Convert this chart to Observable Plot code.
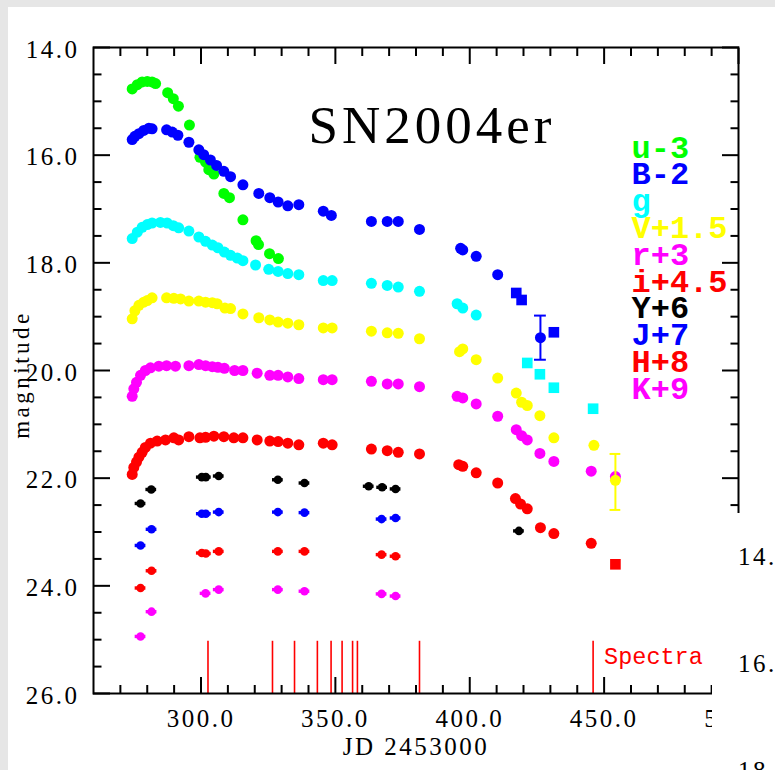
<!DOCTYPE html>
<html>
<head>
<meta charset="utf-8">
<script src="https://cdn.jsdelivr.net/npm/d3@7"></script>
<script src="https://cdn.jsdelivr.net/npm/@observablehq/plot@0.6"></script>
<style>
html,body{margin:0;padding:0;width:775px;height:770px;overflow:hidden;background:#e6e6e6;}
#panel{position:absolute;left:8px;top:7px;width:767px;height:763px;background:#fff;}
#chart{position:absolute;left:0;top:0;}
#cover{position:absolute;left:712px;top:513px;width:63px;height:257px;background:#fff;overflow:hidden;}
g[aria-label="x-axis tick label"], g[aria-label="y-axis tick label"]{letter-spacing:2.5px;}
</style>
</head>
<body>
<div id="panel"></div>
<div id="chart"></div>
<div id="cover"></div>
<script>
// ---------- data (plotted magnitudes, offsets already applied) ----------
const uJD  = [274.4,276.3,278.1,280.0,281.8,283.1,287.6,289.7,291.6,295.7,299.6,301.7,302.9,304.8,308.5,310.6,315.6,320.5,321.4,325.5,328.8];
const uMag = [14.77,14.69,14.64,14.63,14.64,14.67,14.84,14.95,15.09,15.44,16.04,16.13,16.27,16.35,16.71,16.79,17.20,17.59,17.66,17.83,17.92];

const bJD  = [274.4,275.4,276.9,278.7,280.6,281.8,287.2,289.3,291.4,295.5,299.2,301.0,303.5,305.8,308.5,311.0,315.6,321.5,325.6,328.7,332.3,336.4,345.5,348.5,363.4,369.3,373.4,381.3,396.6,397.4,402.4,410.4];
const bMag = [15.71,15.65,15.60,15.54,15.50,15.51,15.53,15.57,15.63,15.76,15.90,15.99,16.09,16.19,16.30,16.40,16.55,16.71,16.79,16.87,16.94,16.92,17.04,17.12,17.23,17.23,17.23,17.38,17.73,17.76,17.88,18.22];
const bSqJD  = [417.3,419.3,431.3];
const bSqMag = [18.56,18.69,19.29];
const bErrJD = [426.3], bErrMag = [19.39], bErrLo = [18.98], bErrHi = [19.80];

const gJD  = [274.4,276.3,278.1,280.0,281.8,284.9,287.4,289.7,291.7,295.5,299.2,301.7,304.2,306.3,308.7,311.0,313.5,315.6,320.3,325.2,328.7,332.3,336.4,345.5,348.8,363.4,369.3,373.4,381.3,395.3,397.4,402.4];
const gMag = [17.55,17.43,17.34,17.29,17.26,17.25,17.26,17.31,17.35,17.41,17.52,17.60,17.67,17.72,17.80,17.86,17.91,17.96,18.04,18.12,18.16,18.20,18.22,18.33,18.33,18.38,18.42,18.45,18.53,18.76,18.84,18.97];
const gSqJD  = [421.4,426.1,431.3,445.9];
const gSqMag = [19.86,20.07,20.32,20.71];

const vJD  = [274.4,275.4,276.9,278.7,280.0,281.8,287.2,289.9,292.4,295.5,299.2,301.7,304.2,306.0,308.9,311.0,315.6,321.5,325.6,328.7,332.3,336.4,345.5,348.8,363.4,369.3,373.4,381.3,396.2,397.4,402.4,410.4,417.3,419.3,421.4,426.1,431.3,446.2];
const vMag = [19.04,18.89,18.79,18.73,18.70,18.65,18.65,18.66,18.67,18.71,18.71,18.73,18.74,18.76,18.84,18.85,18.95,19.02,19.06,19.10,19.12,19.15,19.21,19.21,19.27,19.30,19.31,19.41,19.65,19.60,19.80,20.14,20.42,20.59,20.65,20.84,21.25,21.39];
const vErrJD = [454.2], vErrMag = [22.04], vErrLo = [21.55], vErrHi = [22.59];

const rJD  = [274.4,275.0,276.0,277.5,279.3,281.2,284.3,287.2,290.5,295.5,299.2,301.7,304.2,306.3,308.7,312.5,315.6,320.9,325.6,328.7,332.3,336.4,345.5,348.8,363.4,369.3,373.4,381.3,395.3,397.4,402.4,410.4,417.3,419.3,421.4,426.1,431.3,445.2,454.2];
const rMag = [20.48,20.34,20.22,20.09,20.00,19.95,19.92,19.91,19.92,19.91,19.89,19.91,19.93,19.94,19.96,20.00,20.00,20.05,20.09,20.09,20.12,20.15,20.17,20.17,20.20,20.25,20.25,20.30,20.48,20.51,20.62,20.85,21.10,21.21,21.29,21.54,21.69,21.87,21.97];

const iJD  = [274.4,275.0,276.0,276.9,278.1,279.3,281.2,283.7,286.8,289.9,291.7,295.5,299.6,301.7,304.8,308.5,312.2,315.6,320.9,325.6,328.7,332.3,336.4,345.5,348.8,363.4,369.3,373.4,381.3,395.9,397.4,402.4,410.4,417.0,418.9,421.4,426.3,431.3,445.2];
const iMag = [21.93,21.80,21.70,21.61,21.52,21.43,21.35,21.31,21.29,21.25,21.29,21.23,21.25,21.24,21.22,21.23,21.25,21.25,21.29,21.31,21.32,21.35,21.38,21.35,21.38,21.46,21.49,21.52,21.55,21.75,21.78,21.90,22.09,22.38,22.48,22.57,22.92,23.03,23.21];
const iSqJD  = [454.2];
const iSqMag = [23.60];

const yJD  = [277.5,281.5,300.3,301.8,306.6,328.6,338.5,362.4,367.4,372.4,418.3];
const yMag = [22.47,22.21,21.98,21.98,21.96,22.03,22.09,22.15,22.17,22.20,22.98];
const jJD  = [277.5,281.6,300.3,301.8,306.6,328.6,338.5,367.2,372.4];
const jMag = [23.25,22.95,22.66,22.66,22.63,22.63,22.64,22.76,22.74];
const hJD  = [277.5,281.6,300.3,301.8,306.6,328.6,338.5,367.2,372.4];
const hMag = [24.04,23.72,23.39,23.40,23.36,23.36,23.36,23.42,23.45];
const kJD  = [277.5,281.6,301.7,306.6,328.6,338.5,367.2,372.4];
const kMag = [24.94,24.48,24.14,24.07,24.07,24.10,24.15,24.19];

const spectraJD = [302.6,326.6,334.8,343.3,348.4,352.5,356.4,358.2,381.3,445.9];
const spectraMag = [25.03, 26.0];

const legendLabels = ["u-3","B-2","g","V+1.5","r+3","i+4.5","Y+6","J+7","H+8","K+9"];
const legendColors = ["#00ff00","#0000ff","#00ffff","#ffff00","#ff00ff","#ff0000","#000000","#0000ff","#ff0000","#ff00ff"];
const titleText = "SN2004er";
const xLabelText = "JD 2453000";
const yLabelText = "magnitude";
const spectraLabel = "Spectra";
const xTickValues = [300,350,400,450,500];
const yTickValues = [14,16,18,20,22,24,26];
const sideTickLabels = ["14.0","16.0","18.0"];

// ---------- chart ----------
const serif = "'Liberation Serif','Times New Roman',serif";
const mono = "'Liberation Mono','DejaVu Sans Mono',monospace";
const fmt = d3.format(".1f");
const noLabel = () => "";
const xMinor = d3.range(270, 500, 10).filter(v => v % 50 !== 0);
const yMinor = d3.range(14.5, 26, 0.5).filter(v => v % 2 !== 0);
const [GREEN, BLUE, CYAN, YELLOW, MAGENTA, RED, BLACK] = ["#00ff00","#0000ff","#00ffff","#ffff00","#ff00ff","#ff0000","#000000"];

const marks = [];
// spectra
marks.push(Plot.ruleX(spectraJD, {x: d => d, y1: spectraMag[0], y2: spectraMag[1], stroke: RED, strokeWidth: 1.6}));
marks.push(Plot.text([spectraLabel], {x: () => spectraJD[spectraJD.length - 1], frameAnchor: "bottom", dx: 11, dy: -30,
  textAnchor: "start", lineAnchor: "bottom", fill: RED, fontFamily: mono, fontSize: 23.5}));

// optical circles
const optical = [[uJD,uMag,GREEN],[bJD,bMag,BLUE],[gJD,gMag,CYAN],[vJD,vMag,YELLOW],[rJD,rMag,MAGENTA],[iJD,iMag,RED]];
for (const [jd, mag, c] of optical) marks.push(Plot.dot(jd, {x: jd, y: mag, r: 5.5, fill: c}));
// squares (late points with small error bars)
for (const [jd, mag, c] of [[bSqJD,bSqMag,BLUE],[gSqJD,gSqMag,CYAN],[iSqJD,iSqMag,RED]])
  marks.push(Plot.dot(jd, {x: jd, y: mag, r: 6, symbol: "square", fill: c}));
// error bars
for (const [jd, mag, lo, hi, c, cap] of [[bErrJD,bErrMag,bErrLo,bErrHi,BLUE,2.2],[vErrJD,vErrMag,vErrLo,vErrHi,YELLOW,2.0]]) {
  marks.push(Plot.ruleX(jd, {x: jd, y1: lo, y2: hi, stroke: c, strokeWidth: 2}));
  marks.push(Plot.ruleY(jd, {y: lo, x1: d => d - cap, x2: d => d + cap, stroke: c, strokeWidth: 2}));
  marks.push(Plot.ruleY(jd, {y: hi, x1: d => d - cap, x2: d => d + cap, stroke: c, strokeWidth: 2}));
  marks.push(Plot.dot(jd, {x: jd, y: mag, r: 5.5, fill: c}));
}
// NIR
for (const [jd, mag, c] of [[yJD,yMag,BLACK],[jJD,jMag,BLUE],[hJD,hMag,RED],[kJD,kMag,MAGENTA]]) {
  marks.push(Plot.ruleY(jd, {y: mag, x1: d => d - 2.0, x2: d => d + 2.0, stroke: c, strokeWidth: 3.4}));
  marks.push(Plot.dot(jd, {x: jd, y: mag, r: 4.3, fill: c}));
}

// frame & inward ticks (outward ticks shifted back inside the frame)
marks.push(Plot.frame({stroke: BLACK, strokeWidth: 2}));
const XMAJ = 16, XMIN = 8, YMAJ = 17, YMIN = 8.5;
marks.push(Plot.axisX(xTickValues, {anchor: "bottom", tickSize: XMAJ, dy: -XMAJ, tickFormat: noLabel, label: null, strokeWidth: 2}));
marks.push(Plot.axisX(xMinor, {anchor: "bottom", tickSize: XMIN, dy: -XMIN, tickFormat: noLabel, label: null, strokeWidth: 2}));
marks.push(Plot.axisX(xTickValues, {anchor: "top", tickSize: XMAJ, dy: XMAJ, tickFormat: noLabel, label: null, strokeWidth: 2}));
marks.push(Plot.axisX(xMinor, {anchor: "top", tickSize: XMIN, dy: XMIN, tickFormat: noLabel, label: null, strokeWidth: 2}));
marks.push(Plot.axisY(yTickValues, {anchor: "left", tickSize: YMAJ, dx: YMAJ, tickFormat: noLabel, label: null, strokeWidth: 2}));
marks.push(Plot.axisY(yMinor, {anchor: "left", tickSize: YMIN, dx: YMIN, tickFormat: noLabel, label: null, strokeWidth: 2}));
marks.push(Plot.axisY(yTickValues, {anchor: "right", tickSize: YMAJ, dx: -YMAJ, tickFormat: noLabel, label: null, strokeWidth: 2}));
marks.push(Plot.axisY(yMinor, {anchor: "right", tickSize: YMIN, dx: -YMIN, tickFormat: noLabel, label: null, strokeWidth: 2}));
marks.push(Plot.axisX(xTickValues, {anchor: "bottom", tickSize: 0, tickPadding: 16, tickFormat: fmt, label: null, fontSize: 25}));
marks.push(Plot.axisY(yTickValues, {anchor: "left", tickSize: 0, tickPadding: 14, dy: 2, tickFormat: fmt, label: null, fontSize: 25}));

// labels
marks.push(Plot.text([xLabelText], {frameAnchor: "bottom", dy: 61, textAnchor: "middle", lineAnchor: "bottom", fontSize: 25, fontFamily: serif, fill: BLACK}));
marks.push(Plot.text([yLabelText], {frameAnchor: "left", dx: -65, dy: 4, rotate: -90, textAnchor: "middle", lineAnchor: "bottom", fontSize: 23, fontFamily: serif, fill: BLACK}));
marks.push(Plot.text([titleText], {frameAnchor: "top-left", dx: 215, dy: 95, textAnchor: "start", lineAnchor: "bottom", fontSize: 53, fontFamily: serif, fill: BLACK}));
legendLabels.forEach((lab, i) => {
  marks.push(Plot.text([lab], {frameAnchor: "top-left", dx: 538, dy: 110 + i * 26.8, textAnchor: "start", lineAnchor: "bottom",
    fontSize: 32, fontWeight: "bold", fontFamily: mono, fill: legendColors[i]}));
});

const svg = Plot.plot({
  width: 775, height: 770,
  marginLeft: 93, marginRight: 37, marginTop: 47, marginBottom: 77,
  x: {domain: [260, 500], label: null},
  y: {domain: [14, 26], reverse: true, label: null},
  style: {background: "transparent", fontFamily: serif, fontSize: "25px", color: "black", overflow: "visible"},
  marks
});
document.getElementById("chart").appendChild(svg);

const sel = d3.select(svg).selectAll("text");
sel.filter(function(){ return this.textContent === titleText; }).attr("letter-spacing", "4px");
sel.filter(function(){ return this.textContent === xLabelText; }).attr("letter-spacing", "2.5px");
sel.filter(function(){ return this.textContent === yLabelText; }).attr("letter-spacing", "3.5px");

// fragment of neighbouring panel (bottom right)
const cov = d3.select("#cover").append("svg").attr("width", 63).attr("height", 257);
cov.selectAll("text").data(sideTickLabels).join("text")
  .attr("x", 26).attr("y", (d, i) => 52 + i * 107)
  .attr("font-family", serif).attr("font-size", 25).attr("letter-spacing", "2.5px")
  .text(d => d);
</script>
</body>
</html>
